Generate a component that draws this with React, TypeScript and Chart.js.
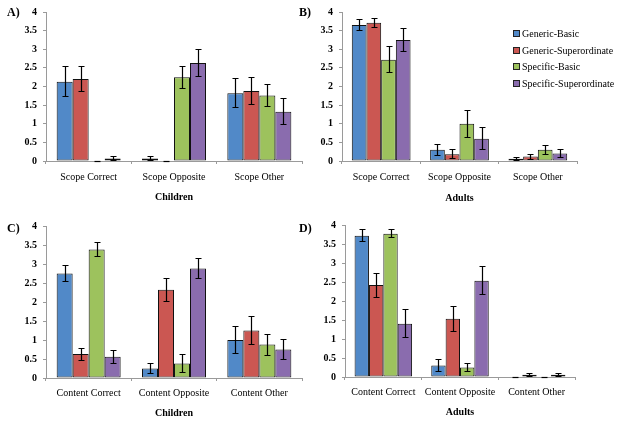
import React, { useEffect, useRef } from 'react';
import { Chart, registerables } from 'chart.js';

Chart.register(...registerables);

const seriesNames = ['Generic-Basic', 'Generic-Superordinate', 'Specific-Basic', 'Specific-Superordinate'];
const seriesColors = ['#5189C8', '#CB5752', '#9DC25D', '#8A6CAE'];

const scopeCategories = ['Scope Correct', 'Scope Opposite', 'Scope Other'];
const contentCategories = ['Content Correct', 'Content Opposite', 'Content Other'];

// Panel A – Children, scope
const aGenericBasic = [2.13, 0.07, 1.82];
const aGenericSuper = [2.2, 0, 1.88];
const aSpecificBasic = [0, 2.25, 1.76];
const aSpecificSuper = [0.07, 2.63, 1.32];
const aGenericBasicErr = [0.42, 0.06, 0.4];
const aGenericSuperErr = [0.36, 0, 0.38];
const aSpecificBasicErr = [0, 0.31, 0.31];
const aSpecificSuperErr = [0.06, 0.37, 0.36];

// Panel B – Adults, scope
const bGenericBasic = [3.65, 0.3, 0.06];
const bGenericSuper = [3.71, 0.18, 0.12];
const bSpecificBasic = [2.72, 1.0, 0.3];
const bSpecificSuper = [3.25, 0.6, 0.2];
const bGenericBasicErr = [0.15, 0.16, 0.05];
const bGenericSuperErr = [0.13, 0.13, 0.08];
const bSpecificBasicErr = [0.37, 0.38, 0.13];
const bSpecificSuperErr = [0.32, 0.31, 0.11];

// Panel C – Children, content
const cGenericBasic = [2.75, 0.25, 1.0];
const cGenericSuper = [0.63, 2.32, 1.25];
const cSpecificBasic = [3.38, 0.38, 0.88];
const cSpecificSuper = [0.56, 2.88, 0.75];
const cGenericBasicErr = [0.22, 0.15, 0.37];
const cGenericSuperErr = [0.17, 0.31, 0.39];
const cSpecificBasicErr = [0.2, 0.26, 0.29];
const cSpecificSuperErr = [0.18, 0.28, 0.28];

// Panel D – Adults, content
const dGenericBasic = [3.72, 0.3, 0];
const dGenericSuper = [2.42, 1.53, 0.06];
const dSpecificBasic = [3.77, 0.25, 0];
const dSpecificSuper = [1.4, 2.53, 0.06];
const dGenericBasicErr = [0.17, 0.18, 0];
const dGenericSuperErr = [0.33, 0.35, 0.05];
const dSpecificBasicErr = [0.12, 0.13, 0];
const dSpecificSuperErr = [0.38, 0.38, 0.05];

const yMin = 0;
const yMax = 4;
const yStep = 0.5;

const FONT = "'Liberation Serif', 'Times New Roman', serif";

const errorBarPlugin = {
  id: 'errorBars',
  afterDatasetsDraw(chart: any) {
    const ctx = chart.ctx;
    const yScale = chart.scales.y;
    chart.data.datasets.forEach((ds: any, di: number) => {
      const meta = chart.getDatasetMeta(di);
      const errs: number[] = ds.errors || [];
      meta.data.forEach((bar: any, i: number) => {
        const e = errs[i] || 0;
        const v = ds.data[i];
        const yTop = Math.round(yScale.getPixelForValue(v + e)) + 0.5;
        const yBot = Math.round(yScale.getPixelForValue(Math.max(0, v - e))) - 0.5;
        const x = Math.round(bar.x) + 0.5;
        const cap = 3;
        ctx.save();
        ctx.strokeStyle = '#000';
        ctx.lineWidth = 1.2;
        ctx.beginPath();
        if (e > 0) {
          ctx.moveTo(x, yTop);
          ctx.lineTo(x, yBot);
          ctx.moveTo(x - cap, yBot);
          ctx.lineTo(x + cap, yBot);
        }
        ctx.moveTo(x - cap, yTop);
        ctx.lineTo(x + cap, yTop);
        ctx.stroke();
        ctx.restore();
      });
    });
  },
};

type PanelProps = {
  left: number;
  top: number;
  w: number;
  h: number;
  yW: number;
  padTop: number;
  padRight: number;
  xH: number;
  titlePad: number;
  tickPad: number;
  categories: string[];
  values: number[][];
  errors: number[][];
  title: string;
};

function Panel(p: PanelProps) {
  const ref = useRef<HTMLCanvasElement>(null);
  useEffect(() => {
    if (!ref.current) return;
    const chart = new Chart(ref.current, {
      type: 'bar',
      data: {
        labels: p.categories,
        datasets: seriesNames.map((name, i) => ({
          label: name,
          data: p.values[i],
          errors: p.errors[i],
          backgroundColor: seriesColors[i],
          borderColor: '#111',
          borderWidth: 1,
          borderSkipped: false,
          categoryPercentage: 0.75,
          barPercentage: 1,
        })) as any,
      },
      options: {
        responsive: false,
        animation: false,
        devicePixelRatio: 1,
        layout: { padding: { top: p.padTop, right: p.padRight, left: 0, bottom: 0 } },
        plugins: { legend: { display: false }, tooltip: { enabled: false } },
        scales: {
          x: {
            grid: { drawOnChartArea: false, drawTicks: true, tickLength: 3, color: '#9a9a9a', offset: true },
            border: { color: '#9a9a9a' },
            ticks: { color: '#000', font: { family: FONT, size: 10 }, padding: p.tickPad, maxRotation: 0 },
            title: { display: true, text: p.title, color: '#000', font: { family: FONT, size: 10, weight: 'bold' }, padding: { top: 0, bottom: p.titlePad } },
            afterFit: (s: any) => { s.height = p.xH; },
          },
          y: {
            min: yMin,
            max: yMax,
            ticks: {
              stepSize: yStep,
              color: '#000',
              font: { family: FONT, size: 10, weight: 'bold' },
              padding: 6,
              callback: (v: any) => String(Number(v)),
            },
            grid: { drawOnChartArea: false, drawTicks: true, tickLength: 3, color: '#9a9a9a' },
            border: { color: '#9a9a9a' },
            afterFit: (s: any) => { s.width = p.yW; },
          },
        },
      } as any,
      plugins: [errorBarPlugin],
    });
    return () => chart.destroy();
  }, []);
  return (
    <canvas
      ref={ref}
      width={p.w}
      height={p.h}
      style={{ position: 'absolute', left: p.left, top: p.top, width: p.w, height: p.h }}
    />
  );
}

const letterStyle: React.CSSProperties = {
  position: 'absolute',
  fontFamily: FONT,
  fontWeight: 'bold',
  fontSize: 12,
  lineHeight: '14px',
  color: '#000',
};

export default function App() {
  return (
    <div style={{ position: 'absolute', left: 0, top: 0, width: 621, height: 423, background: '#fff', overflow: 'hidden' }}>
      <Panel left={0} top={0} w={310} h={210} yW={46} padTop={10} padRight={8} xH={49} titlePad={7} tickPad={7}
        categories={scopeCategories}
        values={[aGenericBasic, aGenericSuper, aSpecificBasic, aSpecificSuper]}
        errors={[aGenericBasicErr, aGenericSuperErr, aSpecificBasicErr, aSpecificSuperErr]}
        title="Children" />
      <Panel left={310} top={0} w={311} h={210} yW={32} padTop={10} padRight={44} xH={49} titlePad={6} tickPad={7}
        categories={scopeCategories}
        values={[bGenericBasic, bGenericSuper, bSpecificBasic, bSpecificSuper]}
        errors={[bGenericBasicErr, bGenericSuperErr, bSpecificBasicErr, bSpecificSuperErr]}
        title="Adults" />
      <Panel left={0} top={210} w={310} h={213} yW={46} padTop={16} padRight={8} xH={45} titlePad={4} tickPad={6}
        categories={contentCategories}
        values={[cGenericBasic, cGenericSuper, cSpecificBasic, cSpecificSuper]}
        errors={[cGenericBasicErr, cGenericSuperErr, cSpecificBasicErr, cSpecificSuperErr]}
        title="Children" />
      <Panel left={310} top={210} w={311} h={213} yW={35} padTop={15} padRight={46} xH={46} titlePad={5} tickPad={6}
        categories={contentCategories}
        values={[dGenericBasic, dGenericSuper, dSpecificBasic, dSpecificSuper]}
        errors={[dGenericBasicErr, dGenericSuperErr, dSpecificBasicErr, dSpecificSuperErr]}
        title="Adults" />

      <div style={{ ...letterStyle, left: 7, top: 5 }}>A)</div>
      <div style={{ ...letterStyle, left: 299, top: 5 }}>B)</div>
      <div style={{ ...letterStyle, left: 7, top: 221 }}>C)</div>
      <div style={{ ...letterStyle, left: 299, top: 221 }}>D)</div>

      <div style={{ position: 'absolute', left: 513, top: 25, fontFamily: FONT, fontSize: 10, color: '#000' }}>
        {seriesNames.map((n, i) => (
          <div key={n} style={{ display: 'flex', alignItems: 'center', height: 16.7, whiteSpace: 'nowrap' }}>
            <span style={{ display: 'inline-block', width: 5, height: 5, background: seriesColors[i], border: '1px solid #222', marginRight: 2 }} />
            <span>{n}</span>
          </div>
        ))}
      </div>
    </div>
  );
}
